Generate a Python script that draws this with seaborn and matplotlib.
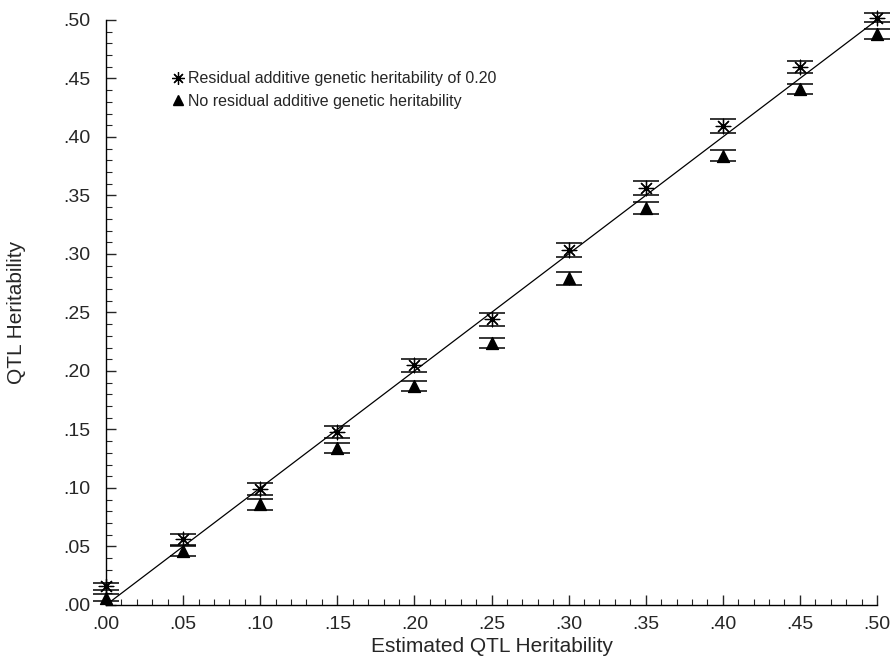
import numpy as np
import pandas as pd
import matplotlib
matplotlib.use('Agg')
import matplotlib.pyplot as plt
import seaborn as sns
from matplotlib.ticker import MultipleLocator, FuncFormatter
from matplotlib.lines import Line2D

# valores
est_h2 = [0.00, 0.05, 0.10, 0.15, 0.20, 0.25, 0.30, 0.35, 0.40, 0.45, 0.50]
resid_020 = [0.016, 0.056, 0.099, 0.148, 0.205, 0.244, 0.303, 0.356, 0.409, 0.460, 0.502]
resid_020_err = [0.003, 0.005, 0.005, 0.005, 0.0055, 0.0055, 0.006, 0.006, 0.006, 0.005, 0.004]
no_resid = [0.006, 0.046, 0.086, 0.134, 0.187, 0.224, 0.279, 0.339, 0.384, 0.441, 0.488]
no_resid_err = [0.003, 0.004, 0.0045, 0.0045, 0.004, 0.0045, 0.0055, 0.005, 0.0045, 0.0045, 0.0045]

LABELS = ["Residual additive genetic heritability of 0.20",
          "No residual additive genetic heritability"]

df = pd.DataFrame({
    "est": est_h2 * 2,
    "qtl": resid_020 + no_resid,
    "err": resid_020_err + no_resid_err,
    "grupo": [LABELS[0]] * len(est_h2) + [LABELS[1]] * len(est_h2),
})

sns.set_style("white")
plt.rcParams['font.family'] = ['Liberation Sans', 'DejaVu Sans']

fig = plt.figure(figsize=(8.94, 6.59), dpi=100)
ax = fig.add_axes([0.1186, 0.082, 0.8624, 0.8878])

# linea 1:1
diag = pd.DataFrame({"x": [0.0, 0.5], "y": [0.0, 0.5]})
sns.lineplot(data=diag, x="x", y="y", color="black", lw=0.9, ax=ax, clip_on=False)

ASTER = (8, 2, 0)
for grupo, marker, ms in [(LABELS[0], ASTER, 110), (LABELS[1], "^", 75)]:
    sub = df[df["grupo"] == grupo]
    ax.errorbar(sub["est"], sub["qtl"], yerr=sub["err"], fmt="none",
                ecolor="black", elinewidth=0.8, capsize=9.5, capthick=1.1,
                clip_on=False, zorder=2)
    sns.scatterplot(data=sub, x="est", y="qtl", marker=marker, s=ms,
                    color="black", edgecolor="black", linewidth=0.9,
                    ax=ax, clip_on=False, zorder=3)

ax.set_xlim(0, 0.5)
ax.set_ylim(0, 0.5)

fmt = FuncFormatter(lambda v, p: f"{v:.2f}".replace("0.", ".", 1))
for axis in (ax.xaxis, ax.yaxis):
    axis.set_major_locator(MultipleLocator(0.05))
    axis.set_minor_locator(MultipleLocator(0.01))
    axis.set_major_formatter(fmt)

ax.tick_params(which="major", direction="in", length=7, width=1, labelsize=14,
               bottom=True, left=True)
ax.tick_params(axis="x", which="major", pad=8)
ax.tick_params(axis="y", which="major", pad=11)
ax.tick_params(which="minor", direction="in", length=4, width=0.8,
               bottom=True, left=True)

for s in ["top", "right"]:
    ax.spines[s].set_visible(False)
for s in ["left", "bottom"]:
    ax.spines[s].set_color("black")
    ax.spines[s].set_linewidth(1.0)

ax.set_xlabel("Estimated QTL Heritability", fontsize=15, labelpad=3)
ax.set_ylabel("QTL Heritability", fontsize=15, labelpad=27)

handles = [
    Line2D([], [], marker=ASTER, color="black", ls="none", markersize=9, mew=0.9),
    Line2D([], [], marker="^", color="black", ls="none", markersize=7),
]
ax.legend(handles, LABELS, loc="upper left", bbox_to_anchor=(0.075, 0.923),
          frameon=False, fontsize=11.5, handletextpad=0.1, handlelength=1.0,
          labelspacing=0.45, borderaxespad=0)

plt.savefig("out.png", dpi=100)
plt.close()
